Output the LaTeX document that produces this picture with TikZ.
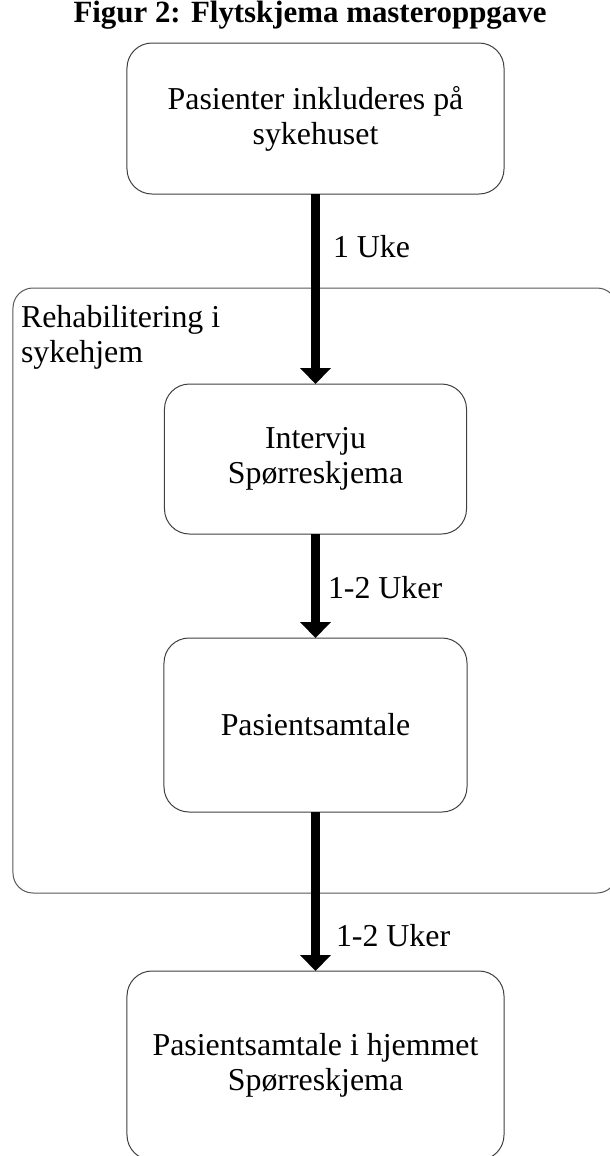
\documentclass[tikz,border=0pt]{standalone}
\usepackage{fontspec}
\setmainfont{Liberation Serif}
\usetikzlibrary{arrows.meta}
\begin{document}
\begin{tikzpicture}[x=1bp,y=-1bp,
  every node/.style={inner sep=0pt, outer sep=0pt},
  txt/.style={font=\fontsize{32}{35}\selectfont, align=center},
  flowbox/.style={txt, draw=black!75, line width=1bp, rounded corners=25bp, fill=white},
  groupbox/.style={draw=black!65, line width=1bp, rounded corners=20bp},
  flowarrow/.style={line width=9bp, -{Triangle[width=30bp,length=16bp]}},
  lbl/.style={font=\fontsize{32}{35}\selectfont, anchor=base west}
]
\clip (0,0) rectangle (610,1156);
\fill[white] (0,0) rectangle (610,1156);

\node[font=\bfseries\fontsize{31}{35}\selectfont, anchor=base] (title) at (310,22) {Figur 2: Flytskjema masteroppgave};

\node[groupbox, minimum width=604bp, minimum height=605bp] (group) at (315,590.5) {};
\node[txt, align=left, anchor=base west] (grouplbl) at (21,362) {Rehabilitering i\\sykehjem};

\node[flowbox, minimum width=377bp, minimum height=151bp] (b1) at (315.5,118.5) {Pasienter inkluderes på\\sykehuset};
\node[flowbox, minimum width=302bp, minimum height=150bp] (b2) at (315.5,459) {Intervju\\Spørreskjema};
\node[flowbox, minimum width=303bp, minimum height=174bp] (b3) at (315.5,725) {Pasientsamtale};
\node[flowbox, minimum width=377bp, minimum height=189bp] (b4) at (315.5,1065.5) {Pasientsamtale i hjemmet\\Spørreskjema};

\draw[flowarrow] (b1.south) -- (b2.north);
\draw[flowarrow] (b2.south) -- (b3.north);
\draw[flowarrow] (b3.south) -- (b4.north);

\node[lbl] (l1) at (333,257) {1 Uke};
\node[lbl] (l2) at (328,598) {1-2 Uker};
\node[lbl] (l3) at (336,946) {1-2 Uker};
\end{tikzpicture}
\end{document}
